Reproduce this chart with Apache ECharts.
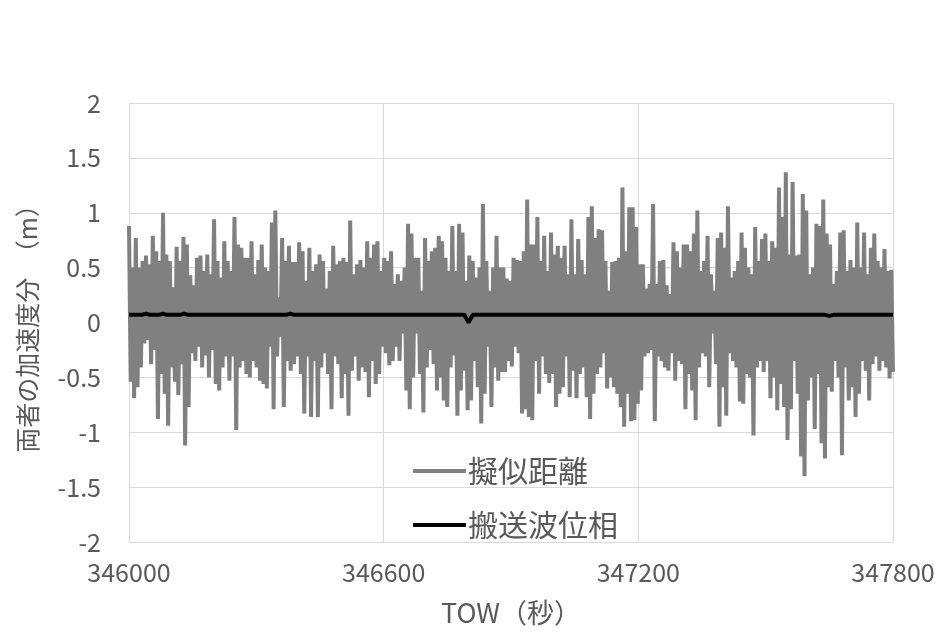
<!DOCTYPE html>
<html><head><meta charset="utf-8">
<script src="https://cdn.jsdelivr.net/npm/echarts@6/dist/echarts.min.js"></script>
<style>html,body{margin:0;padding:0;background:#fff}#c{width:941px;height:636px}</style>
</head><body><div id="c"></div>
<script>
// Time range (TOW, seconds)
const towStart = 346000;
const towEnd = 347800;
const xTicks = [346000, 346600, 347200, 347800];
const yTicks = [-2, -1.5, -1, -0.5, 0, 0.5, 1, 1.5, 2];
const seriesNames = ['擬似距離', '搬送波位相'];

// Pseudorange: positive peaks and negative troughs, read left to right
const pseudoPeaks = [
  0.88,0.5,0.77,0.5,0.56,0.61,0.53,0.79,0.65,0.56,1.0,0.62,0.56,0.32,0.69,0.56,0.78,0.71,0.43,0.34,0.59,0.61,0.47,0.62,0.44,0.94,0.56,0.41,0.74,0.56,0.47,0.96,0.71,0.68,0.59,
  0.59,0.74,0.44,0.57,0.71,0.5,0.47,0.91,1.02,0.23,0.77,0.56,0.7,0.55,0.55,0.73,0.65,0.38,0.68,0.47,0.53,0.62,0.56,0.31,0.47,0.7,0.53,0.56,0.59,0.55,0.93,0.44,0.53,0.57,0.5,0.74,0.59,
  0.71,0.74,0.47,0.59,0.56,0.65,0.35,0.44,0.38,0.5,0.9,0.81,0.59,0.59,0.29,0.77,0.56,0.65,0.68,0.79,0.74,0.59,0.47,0.88,0.47,0.9,0.82,0.38,0.61,0.56,0.41,0.5,1.08,0.56,0.29,0.5,0.79,0.5,
  0.5,0.4,0.38,0.59,0.57,0.56,0.65,1.12,0.71,0.71,0.96,0.56,0.79,0.47,0.82,0.62,0.7,0.59,0.7,0.44,0.94,0.44,0.76,0.57,0.44,0.96,1.06,0.77,0.85,0.84,0.56,0.29,0.55,0.56,0.59,1.23,0.65,1.05,
  1.05,0.87,0.53,0.53,0.31,0.35,1.08,0.35,0.56,0.57,0.34,0.26,0.73,0.65,0.5,0.71,0.71,0.65,0.81,1.02,0.47,0.56,0.79,0.44,0.29,0.77,0.82,0.68,1.06,0.41,0.47,0.56,0.82,0.68,0.5,0.44,0.87,0.56,0.76,
  0.81,0.56,0.74,0.68,1.23,0.96,1.37,0.62,1.28,0.61,0.62,1.17,1.02,0.44,0.5,0.9,0.88,1.12,0.81,0.71,0.35,0.47,0.82,0.84,0.47,0.57,0.5,0.91,0.5,0.82,0.44,0.68,0.81,0.56,0.5,0.67,0.47,0.48
];
const pseudoTroughs = [
  -0.54,-0.69,-0.59,-0.41,-0.19,-0.16,-0.38,-0.25,-0.88,-0.47,-0.65,-0.94,-0.41,-0.54,-0.66,-0.38,-1.12,-0.77,-0.28,-0.35,-0.22,-0.41,-0.30,-0.5,-0.25,-0.56,-0.62,-0.41,-0.31,-0.53,-0.31,-0.98,-0.41,-0.35,-0.47,
  -0.5,-0.35,-0.41,-0.53,-0.56,-0.6,-0.22,-0.79,-0.31,-0.13,-0.77,-0.35,-0.44,-0.38,-0.31,-0.47,-0.83,-0.31,-0.86,-0.35,-0.86,-0.41,-0.28,-0.47,-0.79,-0.31,-0.38,-0.69,-0.47,-0.85,-0.44,-0.31,-0.53,-0.41,-0.45,-0.68,-0.35,
  -0.56,-0.47,-0.22,-0.28,-0.39,-0.35,-0.22,-0.35,-0.10,-0.62,-0.79,-0.5,-0.10,-0.47,-0.82,-0.41,-0.25,-0.38,-0.62,-0.5,-0.71,-0.77,-0.41,-0.3,-0.85,-0.62,-0.44,-0.80,-0.71,-0.35,-0.59,-0.92,-0.65,-0.22,-0.77,-0.41,-0.53,-0.45,
  -0.45,-0.35,-0.4,-0.22,-0.28,-0.83,-0.79,-0.86,-0.89,-0.35,-0.65,-0.31,-0.47,-0.55,-0.47,-0.77,-0.65,-0.59,-0.31,-0.68,-0.44,-0.69,-0.47,-0.41,-0.68,-0.88,-0.65,-0.47,-0.41,-0.28,-0.6,-0.5,-0.59,-0.65,-0.77,-0.95,-0.65,-0.90,
  -0.89,-0.74,-0.62,-0.31,-0.28,-0.25,-0.90,-0.31,-0.35,-0.41,-0.44,-0.28,-0.53,-0.35,-0.38,-0.79,-0.47,-0.62,-0.89,-0.41,-0.28,-0.31,-0.59,-0.10,-0.38,-0.95,-0.59,-0.85,-0.28,-0.35,-0.41,-0.72,-0.74,-0.47,-0.5,-1.03,-0.41,-0.35,-0.45,
  -0.35,-0.69,-0.5,-0.80,-0.56,-0.77,-1.07,-0.79,-0.35,-0.65,-1.22,-1.40,-0.71,-0.5,-0.97,-0.47,-1.10,-1.24,-0.59,-0.63,-0.35,-0.5,-1.21,-0.41,-0.71,-0.59,-0.86,-0.65,-0.35,-0.44,-0.71,-0.38,-0.31,-0.44,-0.35,-0.41,-0.51,-0.45
];

// Carrier phase: nearly flat, sampled every 10 s
const carrierPhase = [
  0.07,0.07,0.07,0.07,0.08,0.07,0.07,0.07,0.08,0.07,0.07,0.07,0.07,0.08,0.07,0.07,0.07,0.07,0.07,0.07,
  0.07,0.07,0.07,0.07,0.07,0.07,0.07,0.07,0.07,0.07,0.07,0.07,0.07,0.07,0.07,0.07,0.07,0.07,0.08,0.07,
  0.07,0.07,0.07,0.07,0.07,0.07,0.07,0.07,0.07,0.07,0.07,0.07,0.07,0.07,0.07,0.07,0.07,0.07,0.07,0.07,
  0.07,0.07,0.07,0.07,0.07,0.07,0.07,0.07,0.07,0.07,0.07,0.07,0.07,0.07,0.07,0.07,0.07,0.07,0.07,0.07,
  0.0,0.07,0.07,0.07,0.07,0.07,0.07,0.07,0.07,0.07,0.07,0.07,0.07,0.07,0.07,0.07,0.07,0.07,0.07,0.07,
  0.07,0.07,0.07,0.07,0.07,0.07,0.07,0.07,0.07,0.07,0.07,0.07,0.07,0.07,0.07,0.07,0.07,0.07,0.07,0.07,
  0.07,0.07,0.07,0.07,0.07,0.07,0.07,0.07,0.07,0.07,0.07,0.07,0.07,0.07,0.07,0.07,0.07,0.07,0.07,0.07,
  0.07,0.07,0.07,0.07,0.07,0.07,0.07,0.07,0.07,0.07,0.07,0.07,0.07,0.07,0.07,0.07,0.07,0.07,0.07,0.07,
  0.07,0.07,0.07,0.07,0.07,0.06,0.07,0.07,0.07,0.07,0.07,0.07,0.07,0.07,0.07,0.07,0.07,0.07,0.07,0.07,0.07
];

// Build [x, y] pairs
const pseudoSeq = [];
for (let i = 0; i < pseudoPeaks.length; i++) {
  pseudoSeq.push(pseudoPeaks[i]);
  if (i < pseudoTroughs.length) pseudoSeq.push(pseudoTroughs[i]);
}
const pStep = (towEnd - towStart) / (pseudoSeq.length - 1);
const pseudoData = pseudoSeq.map((v, i) => [towStart + i * pStep, v]);
const cStep = (towEnd - towStart) / (carrierPhase.length - 1);
const carrierData = carrierPhase.map((v, i) => [towStart + i * cStep, v]);

const txt = '#595959';
const ff = '"Noto Sans CJK JP", "Noto Sans", sans-serif';
const chart = echarts.init(document.getElementById('c'), null, {renderer: 'canvas'});
chart.setOption({
  animation: false,
  backgroundColor: '#fff',
  textStyle: {fontFamily: ff},
  grid: {left: 129, right: 48, top: 103, bottom: 94},
  legend: {
    data: [{name: seriesNames[0], icon: 'rect'}, {name: seriesNames[1], icon: 'rect'}],
    orient: 'vertical', left: 408, top: 451, itemWidth: 53, itemHeight: 4, itemGap: 24,
    textStyle: {color: txt, fontSize: 30, fontFamily: ff, padding: [0, 0, 0, -3]}
  },
  xAxis: {
    type: 'value', min: towStart, max: towEnd, interval: 600,
    name: 'TOW（秒）', nameLocation: 'middle', nameGap: 57,
    nameTextStyle: {color: txt, fontSize: 27, fontFamily: ff},
    axisLine: {show: false}, axisTick: {show: false},
    axisLabel: {color: txt, fontSize: 25, margin: 18, fontFamily: ff, formatter: v => String(v)},
    splitLine: {show: true, lineStyle: {color: '#d9d9d9', width: 1}}
  },
  yAxis: {
    type: 'value', min: -2, max: 2, interval: 0.5,
    name: '両者の加速度分　（m）', nameLocation: 'middle', nameGap: 89,
    nameTextStyle: {color: txt, fontSize: 25, fontFamily: ff},
    axisLine: {show: false}, axisTick: {show: false},
    axisLabel: {color: txt, fontSize: 25, margin: 28, fontFamily: ff},
    splitLine: {show: true, lineStyle: {color: '#d9d9d9', width: 1}}
  },
  series: [
    {name: seriesNames[0], type: 'line', data: pseudoData, showSymbol: false, symbol: 'none',
     lineStyle: {color: '#808080', width: 4}, itemStyle: {color: '#808080'}, sampling: null, z: 2},
    {name: seriesNames[1], type: 'line', data: carrierData, showSymbol: false, symbol: 'none',
     lineStyle: {color: '#000000', width: 4}, itemStyle: {color: '#000000'}, z: 3}
  ]
});
</script></body></html>
